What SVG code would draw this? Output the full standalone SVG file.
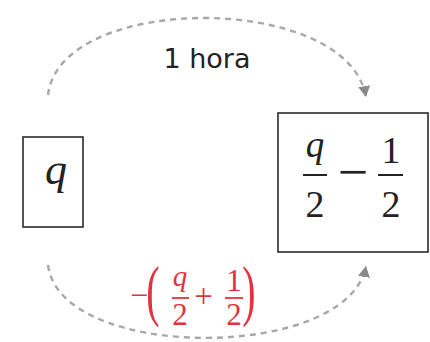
<svg xmlns="http://www.w3.org/2000/svg" width="430" height="342" viewBox="0 0 430 342">
<style>
.box{fill:none;stroke:#2a2a2a;stroke-width:1.6}
.conn{fill:none;stroke:#a8a8a8;stroke-width:2.4;stroke-dasharray:6 5}
.m{font-family:"Liberation Serif",serif;text-anchor:middle;fill:#222}
.i{font-style:italic}
.bar{stroke:#222;stroke-width:2}
.red{fill:#e0343f}
.rbar{stroke:#e0343f;stroke-width:1.8}
.lbl{font-family:"DejaVu Sans",Verdana,sans-serif;font-size:27px;fill:#222;text-anchor:middle}
</style>
<defs>
<marker id="ah" markerUnits="userSpaceOnUse" markerWidth="12" markerHeight="12" viewBox="0 0 12 12" refX="11" refY="6" orient="auto">
<path d="M0,0 L11,6 L0,12 Z" fill="#8a8a8a"/>
</marker>
</defs>
<g id="connectors">
<path class="conn" d="M48,95 C60,-8 348,-8 366,97" marker-end="url(#ah)"/>
<path class="conn" d="M48,265 C60,362 348,362 366,266" marker-end="url(#ah)"/>
<text class="lbl" x="207" y="68">1 hora</text>
<g id="label-bottom">
<text class="m red" x="139" y="306" font-size="32">−</text>
<text class="m red" x="153" y="0" font-size="40" transform="translate(0,313) scale(1,1.7)">(</text>
<text class="m i red" x="180" y="286" font-size="29">q</text>
<line class="rbar" x1="172" y1="298" x2="189" y2="298"/>
<text class="m red" x="180" y="325" font-size="31">2</text>
<text class="m red" x="203.5" y="307" font-size="33">+</text>
<text class="m red" x="234" y="291" font-size="32">1</text>
<line class="rbar" x1="225" y1="298" x2="243" y2="298"/>
<text class="m red" x="234" y="325" font-size="31">2</text>
<text class="m red" x="249" y="0" font-size="40" transform="translate(0,313) scale(1,1.7)">)</text>
</g>
</g>
<g id="node-q">
<rect class="box" x="23" y="137" width="60" height="90"/>
<text class="m i" x="56" y="184" font-size="44">q</text>
</g>
<g id="node-result">
<rect class="box" x="278" y="113" width="150" height="139"/>
<text class="m i" x="315" y="157" font-size="37">q</text>
<line class="bar" x1="303" y1="175" x2="327" y2="175"/>
<text class="m" x="315" y="217" font-size="38">2</text>
<text class="m" x="353" y="190" font-size="54">−</text>
<text class="m" x="391" y="163" font-size="38">1</text>
<line class="bar" x1="378" y1="175" x2="403" y2="175"/>
<text class="m" x="391" y="217" font-size="38">2</text>
</g>
</svg>
